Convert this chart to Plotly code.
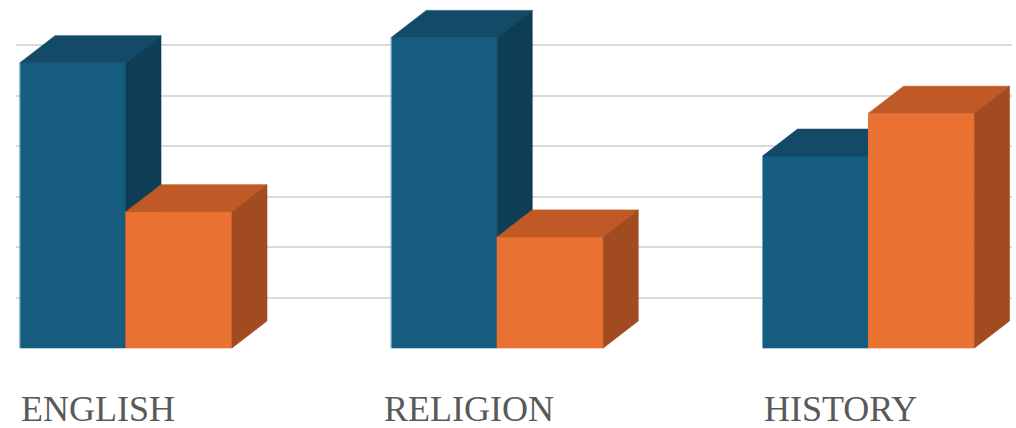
import plotly.graph_objects as go

# Chart data
categories = ["ENGLISH", "RELIGION", "HISTORY"]
series_names = ["Series A", "Series B"]
series_a = [56.5, 61.5, 38.0]
series_b = [27.0, 22.0, 46.5]
grid_values = [10, 20, 30, 40, 50, 60]

# Styling: front, top and side shades for each series
face_colors = [
    {"front": "#155c7f", "top": "#134a68", "side": "#0e3e55", "edge": "#6fa9c4"},
    {"front": "#e97132", "top": "#bf5a27", "side": "#a34b20", "edge": "#e97132"},
]
bar_width = 0.2855      # width of one bar in category units
depth_dx = 0.0943       # horizontal shift of the back faces (category units)
depth_dy = 5.35         # vertical shift of the back faces (value units)

fig = go.Figure()


def add_face(xs, ys, color, name):
    fig.add_trace(go.Scatter(
        x=xs + [xs[0]], y=ys + [ys[0]], mode="lines", fill="toself",
        fillcolor=color, line=dict(color=color, width=0.6),
        hoverinfo="text", text=name, showlegend=False,
    ))


for ci, cat in enumerate(categories):
    for si, values in enumerate([series_a, series_b]):
        v = values[ci]
        c = face_colors[si]
        x0 = ci - bar_width + si * bar_width
        x1 = x0 + bar_width
        label = f"{cat} – {series_names[si]}: {v}"
        # front face
        add_face([x0, x1, x1, x0], [0, 0, v, v], c["front"], label)
        # top face
        add_face([x0, x1, x1 + depth_dx, x0 + depth_dx],
                 [v, v, v + depth_dy, v + depth_dy], c["top"], label)
        # right side face
        add_face([x1, x1 + depth_dx, x1 + depth_dx, x1],
                 [0, depth_dy, v + depth_dy, v], c["side"], label)
        # thin highlight on the front's left edge
        fig.add_trace(go.Scatter(
            x=[x0, x0], y=[0, v], mode="lines",
            line=dict(color=c["edge"], width=1),
            hoverinfo="skip", showlegend=False,
        ))

    fig.add_annotation(
        x=ci, xref="x", xshift=-28,
        y=1 - 409 / 428, yref="paper", yanchor="middle",
        text=cat, showarrow=False,
        font=dict(family="Liberation Serif", size=36, color="#595959"),
    )

fig.update_layout(
    width=1016, height=428,
    margin=dict(l=16, r=4, t=0, b=0),
    paper_bgcolor="white", plot_bgcolor="white",
    showlegend=False,
    xaxis=dict(range=[-0.2963, 2.3865], showgrid=False, zeroline=False,
               showticklabels=False, ticks="", fixedrange=True),
    yaxis=dict(range=[-15.84, 68.91], tickvals=grid_values, showgrid=True,
               gridcolor="#dadada", gridwidth=2, zeroline=False,
               showticklabels=False, ticks="", fixedrange=True),
)

fig.write_html("out.html")
